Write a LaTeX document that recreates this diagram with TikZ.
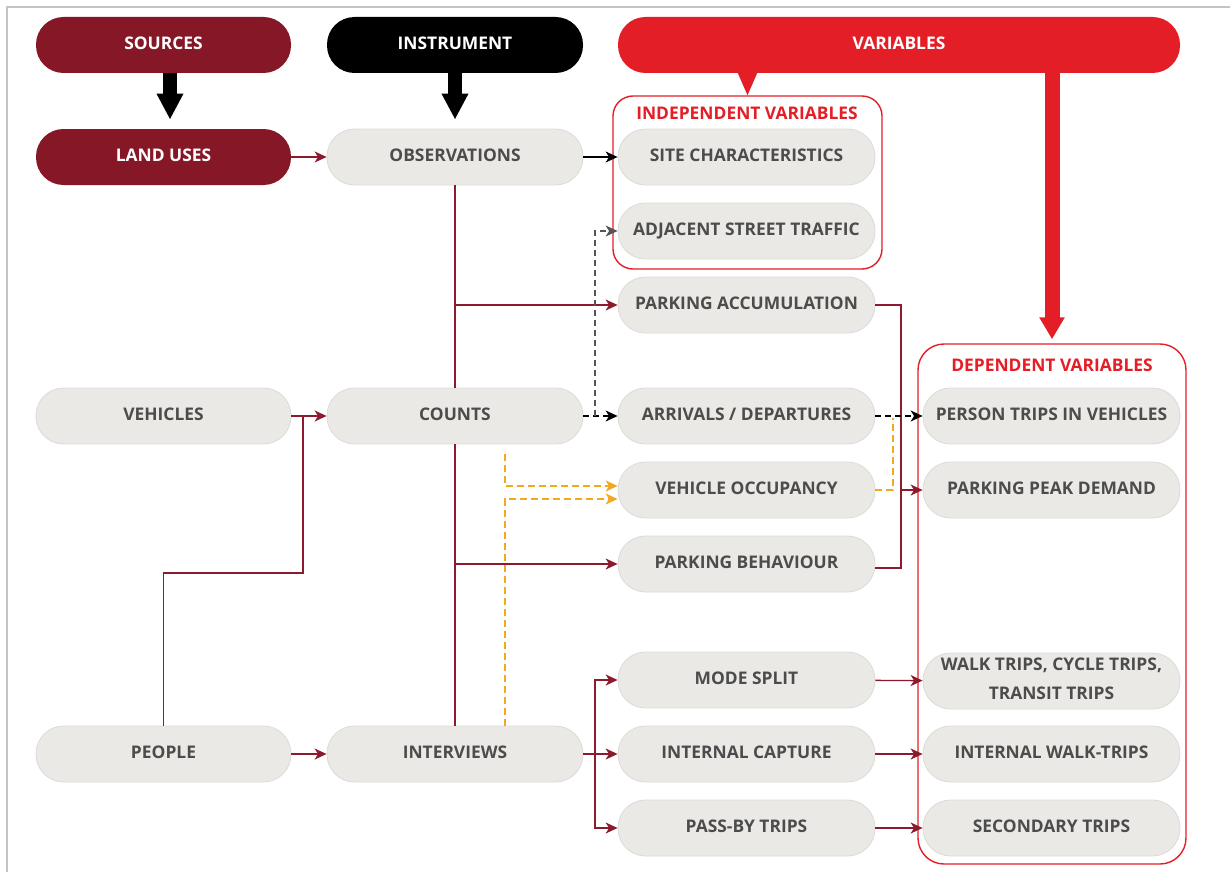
\documentclass[tikz,border=0pt]{standalone}
\usepackage{fontspec}
\setmainfont{Open Sans}
\usetikzlibrary{arrows.meta,calc}

\definecolor{srcred}{HTML}{861726}
\definecolor{varred}{HTML}{E41E26}
\definecolor{pillfill}{HTML}{EAE9E6}
\definecolor{pillline}{HTML}{DCDBD8}
\definecolor{txtgray}{HTML}{4C4C4C}
\definecolor{conn}{HTML}{8C1A2C}
\definecolor{amber}{HTML}{F2A91F}
\definecolor{dashgray}{HTML}{555555}
\definecolor{framegray}{HTML}{C4C4C4}

\begin{document}
\begin{tikzpicture}[x=1pt,y=-1pt,
  pill/.style={rectangle, rounded corners=27.5pt, minimum width=256pt,
    minimum height=56pt, inner sep=0pt, fill=pillfill, draw=pillline,
    line width=0.8pt, text=txtgray, text depth=3pt,
    font=\fontsize{17.4}{20}\selectfont\bfseries},
  headpill/.style={pill, draw=none, text=white},
  groupbox/.style={rectangle, draw=varred, line width=1.4pt, inner sep=0pt},
  grouptitle/.style={text=varred, inner sep=0pt,
    font=\fontsize{17.4}{20}\selectfont\bfseries},
  tip/.style={-{Stealth[length=12pt,width=11pt,inset=3.5pt]}},
  link/.style={draw=conn, line width=1.4pt},
  rc/.style={link, tip},
  bk/.style={draw=black, line width=1.2pt, tip},
  bkd/.style={bk, dash pattern=on 6pt off 4pt},
  gyd/.style={bkd, draw=dashgray},
  ord/.style={draw=amber, line width=1.4pt, dash pattern=on 7pt off 4pt},
  orarrow/.style={ord, tip},
  fatblack/.style={draw=black, line width=14pt, -{Triangle[length=26pt,width=25pt]}},
  fatred/.style={draw=varred, line width=15pt, -{Triangle[length=22pt,width=24pt]}},
]
\useasboundingbox (0,0) rectangle (1230,872);
\fill[white] (0,0) rectangle (1230,872);

% frame
\draw[framegray, line width=2.2pt] (7,872) -- (7,7) -- (1230,7);

% group boxes
\node[groupbox, rounded corners=20pt, minimum width=269pt, minimum height=173pt] (indep) at (747.5,182.5) {};
\node[grouptitle] (indeptitle) at (747,113) {INDEPENDENT VARIABLES};
\node[groupbox, rounded corners=26pt, minimum width=268pt, minimum height=520pt] (dep) at (1052,604) {};
\node[grouptitle] (deptitle) at (1052,365) {DEPENDENT VARIABLES};

% headers
\node[headpill, fill=srcred, minimum width=255pt] (sources) at (163.5,45) {SOURCES};
\node[headpill, fill=black] (instrument) at (455,45) {INSTRUMENT};
\node[headpill, fill=varred, minimum width=562pt] (variables) at (899,45) {VARIABLES};

% column A
\node[headpill, fill=srcred, minimum width=255pt] (landuses) at (163.5,157) {LAND USES};
\node[pill, minimum width=255pt] (vehicles) at (163.5,416) {VEHICLES};
\node[pill, minimum width=255pt] (people) at (163.5,754) {PEOPLE};

% column B
\node[pill] (obs) at (455,157) {OBSERVATIONS};
\node[pill] (counts) at (455,416) {COUNTS};
\node[pill] (interviews) at (455,754) {INTERVIEWS};

% column C
\node[pill, minimum width=257pt] (site) at (746.5,157) {SITE CHARACTERISTICS};
\node[pill, minimum width=257pt] (adj) at (746.5,231) {ADJACENT STREET TRAFFIC};
\node[pill, minimum width=257pt] (parkacc) at (746.5,305) {PARKING ACCUMULATION};
\node[pill, minimum width=257pt] (arrdep) at (746.5,416) {ARRIVALS / DEPARTURES};
\node[pill, minimum width=257pt] (vehocc) at (746.5,490) {VEHICLE OCCUPANCY};
\node[pill, minimum width=257pt] (parkbeh) at (746.5,564) {PARKING BEHAVIOUR};
\node[pill, minimum width=257pt] (modesplit) at (746.5,680) {MODE SPLIT};
\node[pill, minimum width=257pt] (intcap) at (746.5,754) {INTERNAL CAPTURE};
\node[pill, minimum width=257pt] (passby) at (746.5,828) {PASS-BY TRIPS};

% column D
\node[pill, minimum width=257pt] (persontrips) at (1051.5,416) {PERSON TRIPS IN VEHICLES};
\node[pill, minimum width=257pt] (peakdem) at (1051.5,490) {PARKING PEAK DEMAND};
\node[pill, minimum width=257pt, align=center, text depth=4pt, font=\fontsize{17.4}{29}\selectfont\bfseries] (walktrips) at (1051.5,681) {WALK TRIPS, CYCLE TRIPS,\\TRANSIT TRIPS};
\node[pill, minimum width=257pt] (intwalk) at (1051.5,754) {INTERNAL WALK-TRIPS};
\node[pill, minimum width=257pt] (secondary) at (1051.5,828) {SECONDARY TRIPS};

% fat arrows from the headers
\draw[fatblack, shorten >=9pt] (sources.south -| 170,0) -- (landuses.north -| 170,0);
\draw[fatblack, shorten >=9pt] (instrument.south) -- (obs.north);
\draw[fatred, shorten >=4pt] (variables.south -| dep.north) -- (dep.north);
\fill[varred] (indep.north |- variables.south) ++(-10,-1) -- ++(20,0) -- (indep.north) -- cycle;

% junction points
\coordinate (pj) at (303,573);
\coordinate (dj) at (595,416);
\coordinate (oj) at (893,418);
\coordinate (oa) at (505,454);
\coordinate (pk) at (901,490);
\coordinate (ij) at (595,754);

% solid connectors
\draw[rc] (landuses) -- (obs);
\draw[bk] (obs) -- (site);
\draw[link] (obs.south) -- (counts.north);
\draw[link] (counts.south) -- (interviews.north);
\draw[rc] (obs.south |- parkacc) -- (parkacc);
\draw[rc] (obs.south |- parkbeh) -- (parkbeh);
\draw[rc] (vehicles) -- (counts);
\draw[link] (people.north) |- (pj) -- (pj |- vehicles.east);
\draw[rc] (people) -- (interviews);
\draw[link] (parkacc.east) -| (pk);
\draw[link] ([yshift=-4pt]parkbeh.east) -| (pk);
\draw[rc] (pk) -- (peakdem);
\draw[link] (interviews) -- (ij);
\draw[rc] (ij) |- (modesplit);
\draw[rc] (ij) -- (intcap);
\draw[rc] (ij) |- (passby);
\draw[rc] (modesplit) -- (walktrips);
\draw[rc] (intcap) -- (intwalk);
\draw[rc] (passby) -- (secondary);

% dashed connectors
\draw[bkd] (counts) -- (arrdep);
\draw[gyd] (dj) |- (adj.west);
\draw[bkd] (arrdep) -- (persontrips);
\draw[ord] (vehocc.east) -| (oj);
\draw[orarrow] (oa) |- ([yshift=4pt]vehocc.west);
\draw[orarrow] (interviews.north -| oa) |- ([yshift=-9pt]vehocc.west);
\end{tikzpicture}
\end{document}
